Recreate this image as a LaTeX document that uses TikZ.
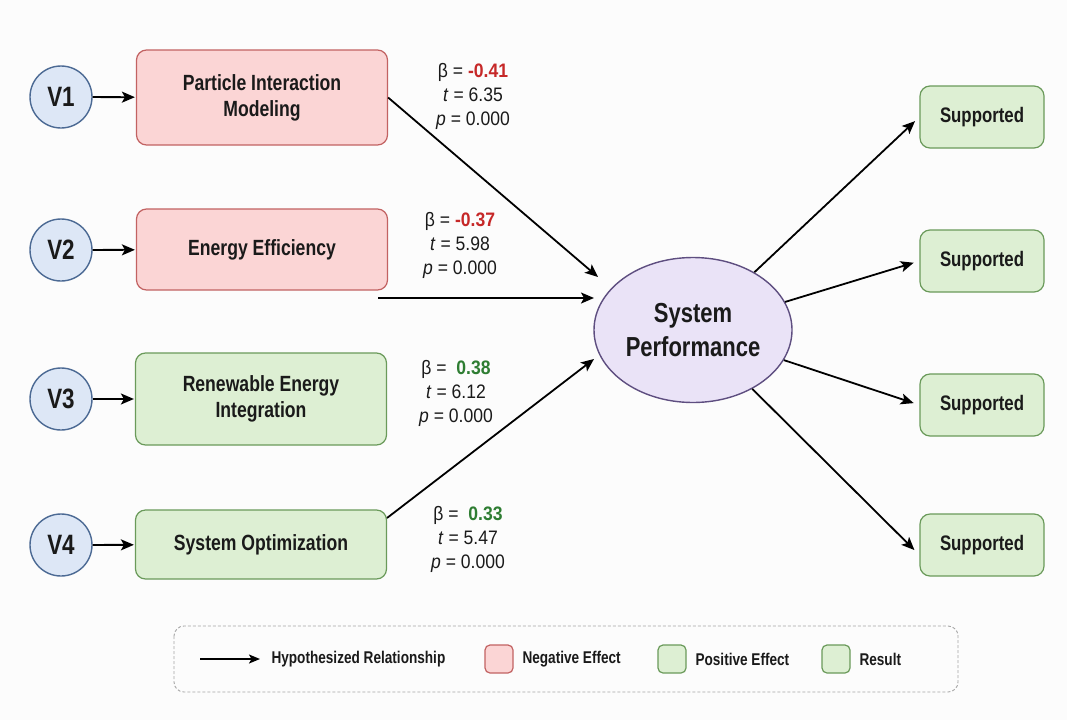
\documentclass[tikz,border=0pt]{standalone}
\usepackage{fontspec}
\setmainfont{Liberation Sans}[FakeStretch=0.8]
\newfontfamily\statfont{Liberation Sans}[FakeStretch=0.9]
\usetikzlibrary{arrows.meta,shapes.geometric}
\definecolor{redfill}{HTML}{FBD5D5}
\definecolor{redline}{HTML}{C26262}
\definecolor{greenfill}{HTML}{DDEFD3}
\definecolor{greenline}{HTML}{6A9A5A}
\definecolor{bluefill}{HTML}{DDE7F6}
\definecolor{blueline}{HTML}{4C6A94}
\definecolor{purplefill}{HTML}{EAE3F7}
\definecolor{purpleline}{HTML}{5E4E80}
\definecolor{negtext}{HTML}{C62828}
\definecolor{postext}{HTML}{2E7D32}
\definecolor{bg}{HTML}{FCFCFC}
\definecolor{ink}{HTML}{1A1A1A}
\begin{document}
\begin{tikzpicture}[x=1pt,y=-1pt,
  every node/.style={text=ink},
  vnode/.style={circle,draw=blueline,fill=bluefill,line width=1.4pt,minimum size=62pt,inner sep=0pt,font=\bfseries\fontsize{28}{30}\selectfont},
  effbox/.style={rectangle,rounded corners=10pt,line width=1.2pt,minimum width=251pt,align=center,font=\bfseries\fontsize{22}{26}\selectfont},
  negbox/.style={effbox,draw=redline,fill=redfill},
  posbox/.style={effbox,draw=greenline,fill=greenfill},
  resbox/.style={rectangle,rounded corners=10pt,line width=1.2pt,draw=greenline,fill=greenfill,minimum width=124pt,minimum height=62pt,font=\bfseries\fontsize{21}{24}\selectfont},
  perf/.style={ellipse,draw=purpleline,fill=purplefill,line width=1.4pt,minimum width=198pt,minimum height=145pt,inner sep=0pt,align=center,font=\bfseries\fontsize{27.5}{34}\selectfont},
  stat/.style={align=center,font=\statfont\fontsize{19.5}{24}\selectfont},
  arr/.style={-{Stealth[length=13pt,width=11pt,inset=3pt]},line width=1.8pt,draw=black},
  legsq/.style={rectangle,rounded corners=5pt,line width=1.2pt,minimum size=28pt,inner sep=0pt},
  legtxt/.style={anchor=west,font=\bfseries\fontsize{17}{18}\selectfont},
]
\fill[bg] (0,0) rectangle (1067,720);
\useasboundingbox (0,0) rectangle (1067,720);

% input variables
\node[vnode] (v1) at (61,97) {V1};
\node[vnode] (v2) at (61,250) {V2};
\node[vnode] (v3) at (61,399) {V3};
\node[vnode] (v4) at (61,545) {V4};

% constructs
\node[negbox,minimum height=95pt] (b1) at (262,97.5) {Particle Interaction\\Modeling};
\node[negbox,minimum height=81pt] (b2) at (262,249.5) {Energy Efficiency};
\node[posbox,minimum height=92pt] (b3) at (261,399) {Renewable Energy\\Integration};
\node[posbox,minimum height=69pt] (b4) at (261,544.5) {System Optimization};

\foreach \i in {1,2,3,4} \draw[arr,shorten >=1pt] (v\i) -- (b\i);

% central
\node[perf] (sp) at (693,330) {System\\Performance};

% results
\node[resbox] (s1) at (982,117) {Supported};
\node[resbox] (s2) at (982,261) {Supported};
\node[resbox] (s3) at (982,405) {Supported};
\node[resbox] (s4) at (982,545) {Supported};

% input arrows
\coordinate (t1) at (598,277);
\coordinate (a2) at (378,298);
\coordinate (t2) at (594,298);
\coordinate (t4) at (594,359);
\coordinate (a4) at (387,518);
\draw[arr] (b1.east) -- (t1);
\draw[arr] (a2) -- (t2);
\draw[arr] (a4) -- (t4);

% output arrows
\draw[arr,shorten >=6pt] (sp) -- (s1.west);
\draw[arr,shorten >=6pt] (sp) -- (s2.west);
\draw[arr,shorten >=6pt] (sp) -- (s3.west);
\draw[arr,shorten >=7pt] (sp) -- ([yshift=-10pt]s4.west);

% statistics
\node[stat] (st1) at (473,96) {β = \textcolor{negtext}{\bfseries -0.41}\\\textit{t} = 6.35\\\textit{p} = 0.000};
\node[stat] (st2) at (460,245) {β = \textcolor{negtext}{\bfseries -0.37}\\\textit{t} = 5.98\\\textit{p} = 0.000};
\node[stat] (st3) at (456,393) {β = \ \textcolor{postext}{\bfseries 0.38}\\\textit{t} = 6.12\\\textit{p} = 0.000};
\node[stat] (st4) at (468,539) {β = \ \textcolor{postext}{\bfseries 0.33}\\\textit{t} = 5.47\\\textit{p} = 0.000};

% legend
\draw[gray!70,dash pattern=on 3pt off 2pt,line width=0.9pt,rounded corners=10pt] (174,626) rectangle (958,692);
\coordinate (la) at (200,659);
\coordinate (lb) at (260,659);
\draw[-{Stealth[length=11pt,width=9pt,inset=2.5pt]},line width=1.6pt] (la) -- (lb);
\node[legtxt] (l1) at (268,659) {Hypothesized Relationship};
\node[legsq,draw=redline,fill=redfill] (q1) at (499,659) {};
\node[legtxt] (l2) at (519,659) {Negative Effect};
\node[legsq,draw=greenline,fill=greenfill] (q2) at (672,659) {};
\node[legtxt] (l3) at (692,659) {Positive Effect};
\node[legsq,draw=greenline,fill=greenfill] (q3) at (836,659) {};
\node[legtxt] (l4) at (856,659) {Result};
\end{tikzpicture}
\end{document}
